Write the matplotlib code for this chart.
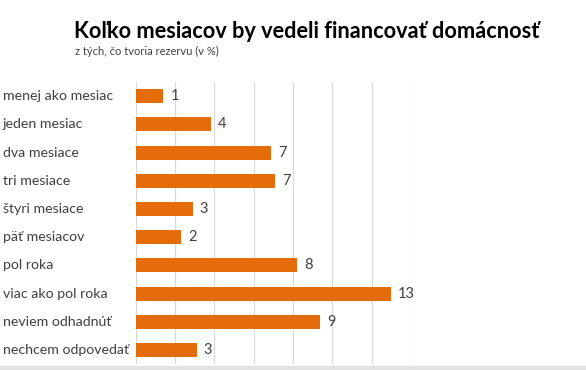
import matplotlib.pyplot as plt
import matplotlib.transforms as mtransforms
from matplotlib.patches import Rectangle

# data (bar lengths) and the printed labels
categories = ["menej ako mesiac", "jeden mesiac", "dva mesiace", "tri mesiace",
              "štyri mesiace", "päť mesiacov", "pol roka", "viac ako pol roka",
              "neviem odhadnúť", "nechcem odpovedať"]
values = [1.4, 3.8, 6.9, 7.1, 2.9, 2.3, 8.2, 13.0, 9.4, 3.1]
value_labels = ["1", "4", "7", "7", "3", "2", "8", "13", "9", "3"]

title = "Koľko mesiacov by vedeli financovať domácnosť"
subtitle = "z tých, čo tvoria rezervu (v %)"

orange = "#E46C0A"
text_col = "#404040"

plt.rcParams['font.family'] = ['Lato', 'DejaVu Sans']

fig = plt.figure(figsize=(5.86, 3.70), dpi=100)
ax = fig.add_axes([0.232, 0.016, 0.469, 0.762])

y = list(range(len(categories)))
ax.barh(y, values, height=0.5, color=orange, zorder=3)
ax.set_ylim(len(categories) - 0.5, -0.5)
ax.set_xlim(0, 14)
ax.set_xticks(range(0, 15, 2))
ax.grid(axis='x', color="#D9D9D9", linewidth=0.9, zorder=0)
ax.tick_params(left=False, bottom=False, labelbottom=False, labelleft=False)
for s in ax.spines.values():
    s.set_visible(False)

# value labels at bar ends
for yi, v, lab in zip(y, values, value_labels):
    ax.annotate(lab, (v, yi), xytext=(5, 0), textcoords='offset points',
                va='center', ha='left', fontsize=10.5, color=text_col)

# category labels, left aligned near figure edge
trans = mtransforms.blended_transform_factory(fig.transFigure, ax.transData)
for yi, c in zip(y, categories):
    ax.text(0.005, yi, c, transform=trans, ha='left', va='center',
            fontsize=10.2, color=text_col)

fig.text(0.127, 0.915, title, fontsize=15.7, fontweight='bold', color='black',
         ha='left', va='center')
fig.text(0.128, 0.862, subtitle, fontsize=8, color=text_col, ha='left', va='center')

# light gray strip at the bottom edge
fig.patches.append(Rectangle((0, 0), 1, 0.012, transform=fig.transFigure,
                             color="#E3E3E3", zorder=0))

fig.savefig("out.png", dpi=100)
